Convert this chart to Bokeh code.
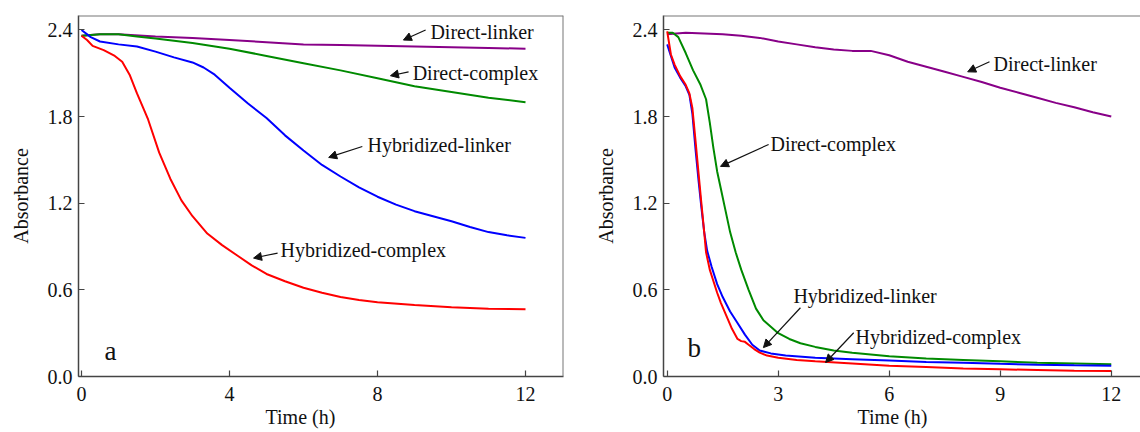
from bokeh.plotting import figure
from bokeh.layouts import row
from bokeh.models import Label, Arrow, NormalHead, Span, NumeralTickFormatter, Title
from bokeh.embed import file_html
from bokeh.resources import INLINE

# ---------------- data: panel a ----------------
a_red_t = [0, 0.15, 0.3, 0.6, 0.9, 1.1, 1.3, 1.5, 1.8, 2.1, 2.4, 2.7, 3.0, 3.4, 3.8, 4.2, 4.6,
           5.0, 5.5, 6.0, 6.5, 7.0, 7.5, 8.0, 9.0, 10.0, 11.0, 12.0]
a_red_v = [2.36, 2.33, 2.29, 2.26, 2.22, 2.18, 2.09, 1.96, 1.78, 1.55, 1.37, 1.22, 1.11, 0.99, 0.91,
           0.84, 0.77, 0.71, 0.66, 0.615, 0.58, 0.55, 0.53, 0.515, 0.495, 0.48, 0.47, 0.465]

a_blue_t = [0, 0.25, 0.5, 1.0, 1.5, 2.0, 2.5, 3.0, 3.3, 3.6, 4.0, 4.5, 5.0, 5.5, 6.0, 6.5, 7.0,
            7.5, 8.0, 8.5, 9.0, 9.5, 10.0, 10.5, 11.0, 11.5, 12.0]
a_blue_v = [2.40, 2.35, 2.32, 2.30, 2.285, 2.25, 2.21, 2.175, 2.14, 2.09, 2.00, 1.89, 1.79, 1.67,
            1.565, 1.465, 1.385, 1.31, 1.245, 1.19, 1.145, 1.11, 1.075, 1.035, 1.0, 0.978, 0.96]

a_green_t = [0, 0.5, 1.0, 1.5, 2.0, 3.0, 4.0, 5.0, 6.0, 7.0, 8.0, 9.0, 10.0, 11.0, 12.0]
a_green_v = [2.36, 2.37, 2.37, 2.355, 2.34, 2.31, 2.27, 2.22, 2.17, 2.12, 2.065, 2.01, 1.97, 1.93, 1.90]

a_purple_t = [0, 0.5, 1.0, 2.0, 3.0, 4.0, 5.0, 6.0, 7.0, 8.0, 9.0, 10.0, 11.0, 12.0]
a_purple_v = [2.36, 2.37, 2.37, 2.355, 2.345, 2.33, 2.315, 2.30, 2.295, 2.29, 2.285, 2.28, 2.275, 2.27]

# ---------------- data: panel b ----------------
b_purple_t = [0, 0.5, 1.0, 1.5, 2.0, 2.5, 3.0, 3.5, 4.0, 4.5, 5.0, 5.5, 6.0, 6.5, 7.0, 7.5, 8.0,
              8.5, 9.0, 9.5, 10.0, 10.5, 11.0, 11.5, 12.0]
b_purple_v = [2.37, 2.38, 2.375, 2.37, 2.36, 2.345, 2.32, 2.30, 2.28, 2.265, 2.255, 2.255, 2.225,
              2.18, 2.145, 2.11, 2.075, 2.04, 2.00, 1.965, 1.93, 1.895, 1.865, 1.83, 1.80]

b_green_t = [0, 0.15, 0.3, 0.5, 0.7, 0.9, 1.05, 1.15, 1.25, 1.35, 1.45, 1.55, 1.7, 1.85, 2.0, 2.2,
             2.4, 2.6, 2.8, 3.0, 3.3, 3.6, 4.0, 4.5, 5.0, 6.0, 7.0, 8.0, 9.0, 10.0, 11.0, 12.0]
b_green_v = [2.38, 2.38, 2.35, 2.24, 2.12, 2.02, 1.92, 1.76, 1.58, 1.42, 1.30, 1.18, 1.0, 0.86, 0.74,
             0.60, 0.47, 0.39, 0.345, 0.30, 0.26, 0.23, 0.205, 0.18, 0.165, 0.14, 0.125, 0.115,
             0.105, 0.095, 0.09, 0.085]

b_blue_t = [0, 0.1, 0.2, 0.35, 0.5, 0.6, 0.68, 0.77, 0.85, 0.92, 1.0, 1.08, 1.2, 1.35, 1.5, 1.7,
            1.9, 2.1, 2.3, 2.5, 2.8, 3.2, 4.0, 5.0, 6.0, 7.0, 8.0, 9.0, 10.0, 11.0, 12.0]
b_blue_v = [2.30, 2.22, 2.14, 2.07, 2.01, 1.95, 1.82, 1.56, 1.35, 1.18, 1.0, 0.87, 0.76, 0.64, 0.55,
            0.45, 0.37, 0.29, 0.22, 0.18, 0.16, 0.145, 0.13, 0.12, 0.11, 0.10, 0.095, 0.088, 0.082,
            0.078, 0.075]

b_red_t = [0, 0.1, 0.2, 0.35, 0.5, 0.6, 0.68, 0.77, 0.85, 0.92, 1.0, 1.05, 1.15, 1.25, 1.35, 1.45,
           1.6, 1.75, 1.9, 2.0, 2.1, 2.2, 2.35, 2.5, 2.7, 3.0, 3.5, 4.0, 5.0, 6.0, 7.0, 8.0, 9.0,
           10.0, 11.0, 12.0]
b_red_v = [2.39, 2.23, 2.16, 2.08, 2.02, 1.96, 1.86, 1.62, 1.40, 1.21, 1.0, 0.86, 0.74, 0.66, 0.58,
           0.51, 0.42, 0.33, 0.26, 0.245, 0.24, 0.22, 0.19, 0.165, 0.145, 0.13, 0.115, 0.105, 0.09,
           0.075, 0.065, 0.055, 0.05, 0.045, 0.04, 0.038]

a_ticks_x = [0, 4, 8, 12]
b_ticks_x = [0, 3, 6, 9, 12]
ticks_y = [0, 0.6, 1.2, 1.8, 2.4]
x_title = "Time (h)"
y_title = "Absorbance"

RED, BLUE, GREEN, PURPLE = "#ff0000", "#0000ff", "#008a00", "#880088"
FONT = "Liberation Serif"
FS = "20px"


def make_fig(width, x_range, xticks, border_left, border_right, title_offset):
    p = figure(width=width, height=432, x_range=x_range, y_range=(0, 2.5),
               output_backend="svg", toolbar_location=None,
               min_border_left=border_left, min_border_right=border_right,
               min_border_top=15, min_border_bottom=56)
    p.grid.visible = False
    p.outline_line_color = None
    p.background_fill_color = "white"
    p.border_fill_color = "white"
    for axes in (p.xaxis, p.yaxis):
        axes.axis_line_color = "#444444"
        axes.axis_line_width = 1.5
        axes.major_tick_line_color = "#444444"
        axes.major_tick_line_width = 1.2
        axes.major_tick_in = 6
        axes.major_tick_out = 0
        axes.minor_tick_line_color = None
        axes.major_label_text_font = FONT
        axes.major_label_text_font_size = FS
        axes.major_label_text_color = "#111111"
        axes.axis_label_text_font = FONT
        axes.axis_label_text_font_size = FS
        axes.axis_label_text_font_style = "normal"
        axes.axis_label_text_color = "#111111"
    p.xaxis.ticker = xticks
    p.yaxis.ticker = ticks_y
    p.yaxis.formatter = NumeralTickFormatter(format="0.0")
    p.yaxis.axis_label = y_title
    p.xaxis.major_label_standoff = 10
    p.yaxis.major_label_standoff = 6
    p.yaxis.axis_label_standoff = 13
    p.add_layout(Title(text=x_title, align="left", offset=title_offset, standoff=0,
                       vertical_align="bottom", text_font=FONT, text_font_size=FS,
                       text_font_style="normal", text_color="#111111"), "below")
    p.add_layout(Span(location=2.5, dimension="width", line_color="#777777", line_width=2))
    return p


def annotate(p, text, tx, ty, x0, y0, x1, y1):
    p.add_layout(Label(x=tx, y=ty, text=text, text_font=FONT, text_font_size=FS,
                       text_baseline="middle", text_align="left", text_color="#111111"))
    p.add_layout(Arrow(end=NormalHead(size=8, fill_color="#111111", line_color="#111111",
                                      line_width=1),
                       x_start=x0, y_start=y0, x_end=x1, y_end=y1,
                       line_color="#111111", line_width=1.2))


# ---------------- panel a ----------------
pa = make_fig(590, (-0.081, 13.027), a_ticks_x, 78, 27, 187)
pa.add_layout(Span(location=13.027, dimension="height", line_color="#777777", line_width=2))
pa.line(a_purple_t, a_purple_v, line_color=PURPLE, line_width=2)
pa.line(a_green_t, a_green_v, line_color=GREEN, line_width=2)
pa.line(a_blue_t, a_blue_v, line_color=BLUE, line_width=2)
pa.line(a_red_t, a_red_v, line_color=RED, line_width=2)
annotate(pa, "Direct-linker", 9.43, 2.386, 9.30, 2.40, 8.70, 2.33)
annotate(pa, "Direct-complex", 8.95, 2.10, 8.84, 2.11, 8.35, 2.083)
annotate(pa, "Hybridized-linker", 7.73, 1.60, 7.59, 1.593, 6.68, 1.517)
annotate(pa, "Hybridized-complex", 5.38, 0.876, 5.30, 0.855, 4.65, 0.82)
pa.add_layout(Label(x=0.62, y=0.18, text="a", text_font=FONT, text_font_size="27px",
                    text_baseline="middle", text_align="left", text_color="#111111"))

# ---------------- panel b ----------------
pb = make_fig(550, (-0.1, 12.79), b_ticks_x, 73, 0, 194)
pb.line(b_purple_t, b_purple_v, line_color=PURPLE, line_width=2)
pb.line(b_green_t, b_green_v, line_color=GREEN, line_width=2)
pb.line(b_blue_t, b_blue_v, line_color=BLUE, line_width=2)
pb.line(b_red_t, b_red_v, line_color=RED, line_width=2)
annotate(pb, "Direct-linker", 8.82, 2.166, 8.71, 2.18, 8.12, 2.11)
annotate(pb, "Direct-complex", 2.79, 1.607, 2.74, 1.607, 1.44, 1.455)
annotate(pb, "Hybridized-linker", 3.41, 0.559, 3.60, 0.476, 2.60, 0.20)
annotate(pb, "Hybridized-complex", 5.09, 0.276, 5.04, 0.303, 4.28, 0.097)
pb.add_layout(Label(x=0.55, y=0.2, text="b", text_font=FONT, text_font_size="27px",
                    text_baseline="middle", text_align="left", text_color="#111111"))

layout = row(pa, pb)
open("out.html", "w").write(file_html(layout, INLINE))
